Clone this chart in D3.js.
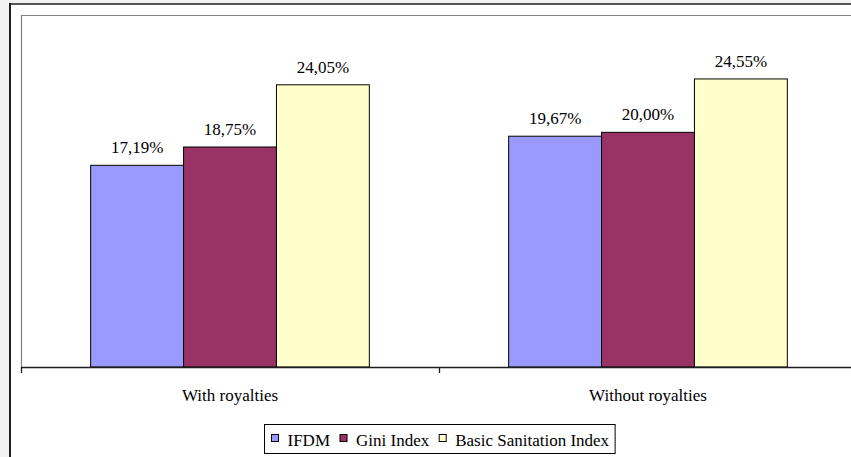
<!DOCTYPE html>
<html>
<head>
<meta charset="utf-8">
<script src="https://cdn.jsdelivr.net/npm/d3@7"></script>
<style>
  html, body { margin: 0; padding: 0; background: #f2f2f2; }
  svg { display: block; }
</style>
</head>
<body>
<svg id="chart" width="851" height="457"></svg>
<script>
// Categories, series and their values (percent)
const categories = ["With royalties", "Without royalties"];
const seriesNames = ["IFDM", "Gini Index", "Basic Sanitation Index"];
const seriesColors = ["#9999FF", "#993366", "#FFFFCC"];
const ifdm = [17.19, 19.67];
const gini = [18.75, 20.00];
const sanitation = [24.05, 24.55];
const seriesValues = [ifdm, gini, sanitation];

const FONT = "'Liberation Serif', 'Times New Roman', serif";
const fmt = v => d3.format(".2f")(v).replace(".", ",") + "%";

const svg = d3.select("#chart");
const W = 851, H = 457;

// Chart area: white panel with a dark frame on the left and top
svg.append("rect").attr("x", 10).attr("y", 4).attr("width", W).attr("height", H)
  .attr("fill", "#fff");
svg.append("line").attr("x1", 10).attr("x2", 10).attr("y1", 3).attr("y2", H)
  .attr("stroke", "#1e1e1e").attr("stroke-width", 2);
svg.append("line").attr("x1", 9).attr("x2", W).attr("y1", 4).attr("y2", 4)
  .attr("stroke", "#1e1e1e").attr("stroke-width", 1.5);

// Plot area
const plot = { left: 21, top: 15, right: 857, bottom: 367 };

svg.append("line").attr("x1", plot.left + 0.5).attr("x2", plot.left + 0.5)
  .attr("y1", plot.top).attr("y2", plot.bottom)
  .attr("stroke", "#808080").attr("stroke-width", 1.2);
svg.append("line").attr("x1", plot.left).attr("x2", W)
  .attr("y1", plot.top + 0.5).attr("y2", plot.top + 0.5)
  .attr("stroke", "#808080").attr("stroke-width", 1.2);

const x0 = d3.scaleBand().domain(categories).range([plot.left, plot.right])
  .paddingInner(0).paddingOuter(0);
const x1 = d3.scaleBand().domain(seriesNames).range([0, x0.bandwidth()])
  .paddingInner(0).paddingOuter(0.75);
const y = d3.scaleLinear().domain([0, 30]).range([plot.bottom, plot.top]);

// Bars
const rows = [];
categories.forEach((c, ci) => {
  seriesNames.forEach((s, si) => {
    rows.push({ cat: c, series: s, value: seriesValues[si][ci], color: seriesColors[si] });
  });
});

svg.append("g").selectAll("rect").data(rows).join("rect")
  .attr("x", d => x0(d.cat) + x1(d.series))
  .attr("y", d => y(d.value))
  .attr("width", x1.bandwidth())
  .attr("height", d => y(0) - y(d.value))
  .attr("fill", d => d.color)
  .attr("stroke", "#000").attr("stroke-width", 1);

// Value labels
svg.append("g").selectAll("text").data(rows).join("text")
  .attr("x", d => x0(d.cat) + x1(d.series) + x1.bandwidth() / 2)
  .attr("y", d => y(d.value) - 12)
  .attr("text-anchor", "middle")
  .attr("font-size", 17)
  .style("font-family", FONT)
  .text(d => fmt(d.value));

// Category axis
const xAxis = d3.axisBottom(x0).tickSize(0).tickPadding(0);
const gx = svg.append("g").attr("transform", `translate(0,${plot.bottom})`).call(xAxis);
gx.select(".domain").remove();
gx.selectAll("text").attr("dy", null).attr("y", 34)
  .attr("font-size", 17).attr("fill", "#000").style("font-family", FONT);
svg.append("line").attr("x1", plot.left).attr("x2", W)
  .attr("y1", plot.bottom + 0.5).attr("y2", plot.bottom + 0.5)
  .attr("stroke", "#1e1e1e").attr("stroke-width", 1.3);
const bounds = [plot.left, ...categories.map(c => x0(c) + x0.bandwidth())];
svg.append("g").selectAll("line").data(bounds).join("line")
  .attr("x1", d => Math.round(d) + 0.5).attr("x2", d => Math.round(d) + 0.5)
  .attr("y1", plot.bottom).attr("y2", plot.bottom + 6)
  .attr("stroke", "#1e1e1e").attr("stroke-width", 1.3);

// Legend
const legend = svg.append("g");
const box = legend.append("rect").attr("fill", "#fff").attr("stroke", "#000").attr("stroke-width", 1);
let lx = 271;
seriesNames.forEach((s, i) => {
  legend.append("rect").attr("x", lx + 0.5).attr("y", 434.5).attr("width", 7).attr("height", 7)
    .attr("fill", seriesColors[i]).attr("stroke", "#000").attr("stroke-width", 1);
  const t = legend.append("text").attr("x", lx + 16.5).attr("y", 445.5)
    .attr("font-size", 17).style("font-family", FONT).text(s);
  lx += 16.5 + t.node().getComputedTextLength() + 9.5;
});
box.attr("x", 264.5).attr("y", 424.5).attr("width", lx - 9.5 + 6 - 264.5).attr("height", 29);
</script>
</body>
</html>
